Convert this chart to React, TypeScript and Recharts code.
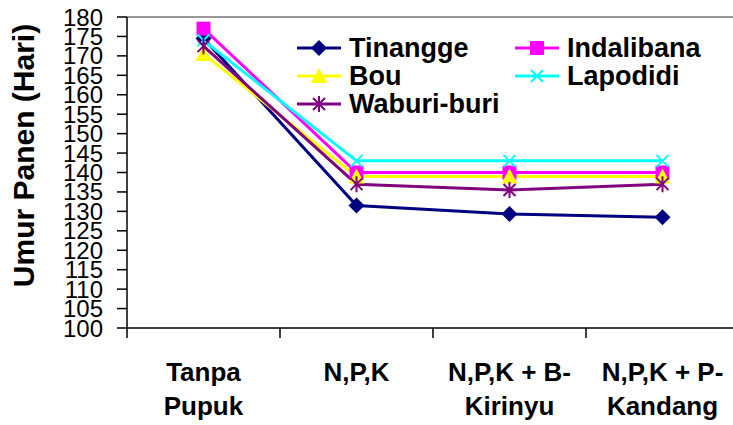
import React from 'react';
import { LineChart, Line, XAxis, YAxis, ReferenceLine } from 'recharts';

const FONT = '"Liberation Sans", Arial, sans-serif';

// kategori perlakuan (label dipecah per baris)
const categories = [['Tanpa', 'Pupuk'], ['N,P,K'], ['N,P,K + B-', 'Kirinyu'], ['N,P,K + P-', 'Kandang']];

const tinangge = [174.5, 131.5, 129.3, 128.5];
const indalibana = [177, 140, 140, 140];
const bou = [170.5, 139, 139, 139];
const lapodidi = [174, 143, 143, 143];
const waburiBuri = [172.5, 137, 135.5, 137];

const yTicks = [100, 105, 110, 115, 120, 125, 130, 135, 140, 145, 150, 155, 160, 165, 170, 175, 180];
const xTicks = [0, 0.5, 1, 1.5, 2, 2.5, 3, 3.5, 4];

const data = categories.map((c, i) => ({
  x: i + 0.5,
  Tinangge: tinangge[i],
  Indalibana: indalibana[i],
  Bou: bou[i],
  Lapodidi: lapodidi[i],
  'Waburi-buri': waburiBuri[i],
}));

type Shape = 'diamond' | 'square' | 'triangle' | 'cross' | 'star';

const Marker = ({ cx, cy, shape, color }: { cx: number; cy: number; shape: Shape; color: string }) => {
  if (shape === 'diamond')
    return <path d={`M${cx},${cy - 8}L${cx + 8},${cy}L${cx},${cy + 8}L${cx - 8},${cy}Z`} fill={color} />;
  if (shape === 'square') return <rect x={cx - 7} y={cy - 7} width={14} height={14} fill={color} />;
  if (shape === 'triangle')
    return <path d={`M${cx},${cy - 8}L${cx + 8},${cy + 7}L${cx - 8},${cy + 7}Z`} fill={color} />;
  if (shape === 'cross')
    return (
      <path d={`M${cx - 6},${cy - 6}L${cx + 6},${cy + 6}M${cx - 6},${cy + 6}L${cx + 6},${cy - 6}`} stroke={color} strokeWidth={2} />
    );
  return (
    <path
      d={`M${cx - 6},${cy - 6}L${cx + 6},${cy + 6}M${cx - 6},${cy + 6}L${cx + 6},${cy - 6}M${cx},${cy - 8}L${cx},${cy + 8}`}
      stroke={color}
      strokeWidth={2}
    />
  );
};

const series: { key: string; color: string; shape: Shape }[] = [
  { key: 'Tinangge', color: '#000080', shape: 'diamond' },
  { key: 'Indalibana', color: '#FF00FF', shape: 'square' },
  { key: 'Bou', color: '#FFFF00', shape: 'triangle' },
  { key: 'Lapodidi', color: '#00FFFF', shape: 'cross' },
  { key: 'Waburi-buri', color: '#800080', shape: 'star' },
];

const XTick = (props: any) => {
  const { x, y, payload } = props;
  const v = payload.value;
  if (Number.isInteger(v)) return <line x1={x} y1={y - 10} x2={x} y2={y} stroke="#000" strokeWidth={1.5} />;
  const lines = categories[v - 0.5];
  return (
    <text x={x} y={y} textAnchor="middle" fontFamily={FONT} fontWeight="bold" fontSize={26} fill="#000">
      {lines.map((l, k) => (
        <tspan key={k} x={x} dy={k === 0 ? 43 : 34}>
          {l}
        </tspan>
      ))}
    </text>
  );
};

const YLabel = (props: any) => {
  const { x, y, height } = props.viewBox;
  return (
    <text
      transform={`translate(${x + 23},${y + height / 2 - 17}) rotate(-90)`}
      textAnchor="middle"
      dominantBaseline="central"
      fontFamily={FONT}
      fontWeight="bold"
      fontSize={30}
      fill="#000"
    >
      Umur Panen (Hari)
    </text>
  );
};

const LegendBox = () => (
  <div
    style={{
      position: 'absolute',
      left: 297,
      top: 34,
      display: 'grid',
      gridTemplateColumns: '218px auto',
      fontFamily: FONT,
      fontWeight: 'bold',
      fontSize: 27,
      lineHeight: '28px',
      color: '#000',
    }}
  >
    {series.map((s) => (
      <div key={s.key} style={{ display: 'flex', alignItems: 'center', whiteSpace: 'nowrap' }}>
        <svg width={44} height={20} style={{ marginRight: 8 }}>
          <line x1={0} y1={10} x2={44} y2={10} stroke={s.color} strokeWidth={3} />
          <Marker cx={22} cy={10} shape={s.shape} color={s.color} />
        </svg>
        {s.key}
      </div>
    ))}
  </div>
);

export default function App() {
  return (
    <div style={{ position: 'absolute', left: 0, top: 0, width: 733, height: 425, overflow: 'hidden', background: '#fff' }}>
      <LineChart width={745} height={425} data={data} margin={{ top: 17, right: 6, left: 0, bottom: 0 }}>
        <XAxis
          dataKey="x"
          type="number"
          domain={[0, 4]}
          ticks={xTicks}
          interval={0}
          height={97}
          tickSize={10}
          tickMargin={0}
          tickLine={false}
          axisLine={{ stroke: '#000', strokeWidth: 1.5 }}
          tick={<XTick />}
        />
        <YAxis
          type="number"
          domain={[100, 180]}
          ticks={yTicks}
          interval={0}
          width={127}
          tickSize={10}
          tickMargin={14}
          axisLine={{ stroke: '#000', strokeWidth: 1.5 }}
          tickLine={{ stroke: '#000', strokeWidth: 1.5 }}
          tick={{ fill: '#000', fontSize: 24, fontFamily: FONT }}
          label={<YLabel />}
        />
        <ReferenceLine y={180} stroke="#333" strokeWidth={1} />
        {series.map((s) => (
          <Line
            key={s.key}
            dataKey={s.key}
            stroke={s.color}
            strokeWidth={3}
            isAnimationActive={false}
            dot={(p: any) => <Marker key={p.index} cx={p.cx} cy={p.cy} shape={s.shape} color={s.color} />}
            activeDot={false}
          />
        ))}
      </LineChart>
      <LegendBox />
    </div>
  );
}
